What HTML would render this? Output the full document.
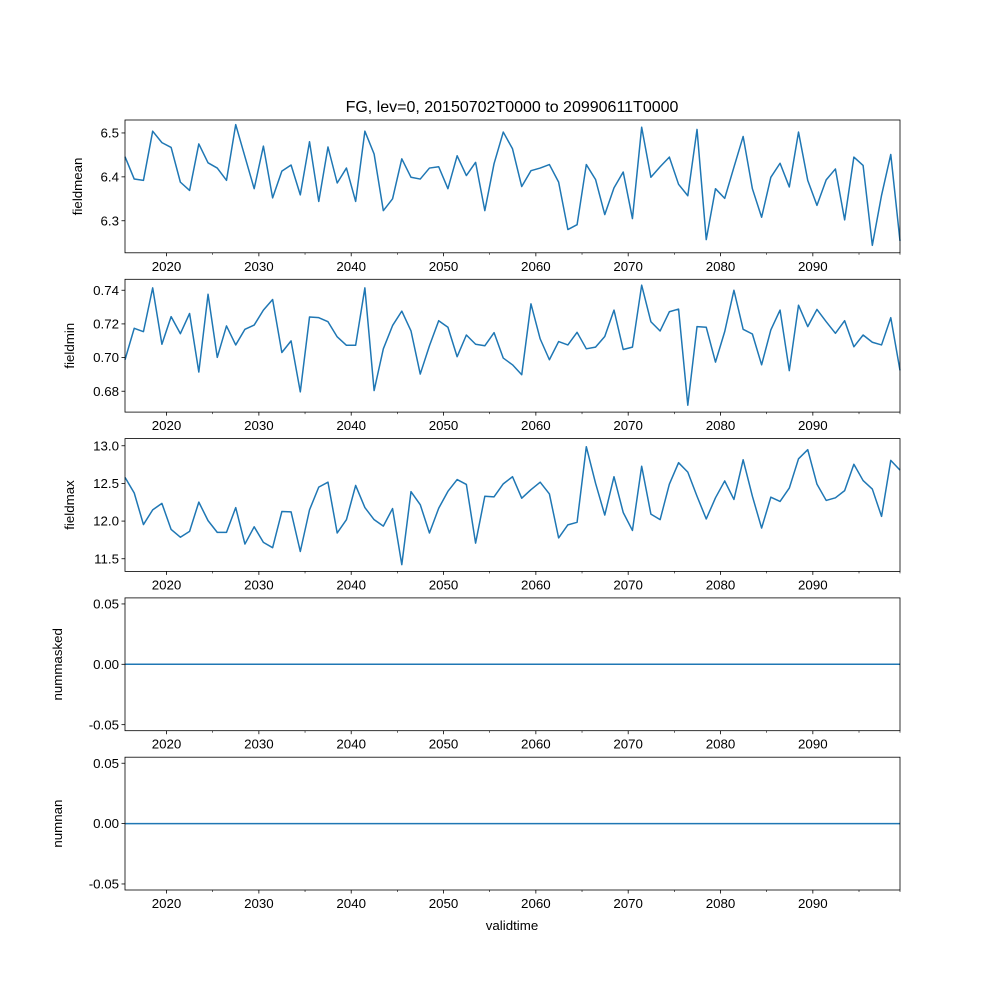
<!DOCTYPE html>
<html><head><meta charset="utf-8"><style>
body{margin:0;background:#fff}
svg{display:block;font-family:"Liberation Sans","DejaVu Sans",sans-serif}
</style></head><body>
<svg id="chart" width="1000" height="1000" viewBox="0 0 1000 1000" xmlns="http://www.w3.org/2000/svg">
<rect width="1000" height="1000" fill="#fff"/>
<text x="512" y="112" font-size="16" text-anchor="middle">FG, lev=0, 20150702T0000 to 20990611T0000</text>
<text x="512" y="930" font-size="13.3" text-anchor="middle">validtime</text>
</svg>
<script>
const fieldmean = [6.446,6.395,6.392,6.504,6.478,6.467,6.388,6.369,6.475,6.432,6.420,6.392,6.519,6.446,6.373,6.470,6.352,6.413,6.427,6.359,6.480,6.344,6.468,6.386,6.420,6.344,6.504,6.452,6.323,6.350,6.441,6.399,6.395,6.420,6.423,6.373,6.448,6.403,6.433,6.323,6.430,6.502,6.464,6.378,6.414,6.420,6.428,6.388,6.280,6.291,6.428,6.394,6.314,6.375,6.411,6.305,6.513,6.399,6.423,6.445,6.383,6.357,6.508,6.257,6.373,6.351,6.422,6.492,6.373,6.308,6.399,6.431,6.377,6.502,6.392,6.335,6.393,6.418,6.302,6.445,6.426,6.244,6.358,6.451,6.254];
const fieldmin = [0.6987,0.7174,0.7154,0.7414,0.7079,0.7243,0.7142,0.7262,0.6914,0.7376,0.7001,0.7188,0.7075,0.7168,0.7193,0.7282,0.7345,0.7030,0.7099,0.6796,0.7241,0.7237,0.7213,0.7123,0.7073,0.7073,0.7414,0.6804,0.7052,0.7190,0.7276,0.7158,0.6902,0.7070,0.7219,0.7180,0.7005,0.7134,0.7079,0.7070,0.7148,0.6997,0.6957,0.6898,0.7319,0.7111,0.6987,0.7095,0.7075,0.7150,0.7052,0.7062,0.7125,0.7282,0.7048,0.7062,0.7430,0.7213,0.7158,0.7272,0.7288,0.6717,0.7184,0.7180,0.6973,0.7154,0.7400,0.7168,0.7140,0.6957,0.7164,0.7282,0.6922,0.7311,0.7184,0.7286,0.7213,0.7144,0.7219,0.7064,0.7134,0.7091,0.7075,0.7237,0.6924];
const fieldmax = [12.581,12.373,11.954,12.149,12.235,11.889,11.786,11.863,12.252,12.006,11.850,11.850,12.179,11.695,11.924,11.717,11.647,12.127,12.123,11.596,12.149,12.451,12.516,11.842,12.019,12.473,12.179,12.019,11.933,12.166,11.422,12.391,12.218,11.842,12.170,12.395,12.551,12.486,11.708,12.330,12.322,12.494,12.589,12.304,12.417,12.516,12.360,11.777,11.950,11.984,12.987,12.503,12.080,12.589,12.114,11.876,12.728,12.093,12.019,12.490,12.775,12.650,12.330,12.028,12.309,12.533,12.287,12.814,12.330,11.907,12.317,12.261,12.438,12.827,12.948,12.490,12.274,12.309,12.404,12.754,12.538,12.425,12.062,12.806,12.676];
const nummasked = new Array(85).fill(0);
const numnan = new Array(85).fill(0);
const startYear = 2015.5, endYear = 2099.44;
const xTickLabels = [2020,2030,2040,2050,2060,2070,2080,2090];
const meanTicks = [6.3,6.4,6.5];
const minTicks = [0.68,0.70,0.72,0.74];
const maxTicks = [11.5,12.0,12.5,13.0];
const zeroTicks = [-0.05,0.00,0.05];

const NS="http://www.w3.org/2000/svg";
const svg=document.getElementById('chart');
const L=125,R=900,H=132.8,TOP=[120,279.3,438.6,597.9,757.2];
function mk(t,a,p){const e=document.createElementNS(NS,t);for(const k in a)e.setAttribute(k,a[k]);(p||svg).appendChild(e);return e;}
function xYear(y){return L+(y-startYear)/(endYear-startYear)*(R-L);}
const panels=[
 {name:'fieldmean',data:fieldmean,lo:6.227,hi:6.5295,ticks:meanTicks,dec:1,lx:82},
 {name:'fieldmin',data:fieldmin,lo:0.6676,hi:0.7465,ticks:minTicks,dec:2,lx:74},
 {name:'fieldmax',data:fieldmax,lo:11.332,hi:13.095,ticks:maxTicks,dec:1,lx:74},
 {name:'nummasked',data:nummasked,lo:-0.055,hi:0.055,ticks:zeroTicks,dec:2,lx:62},
 {name:'numnan',data:numnan,lo:-0.055,hi:0.055,ticks:zeroTicks,dec:2,lx:62}
];
panels.forEach((p,pi)=>{
  const top=TOP[pi],bot=top+H;
  const g=mk('g',{});
  
  
  const yS=v=>bot-(v-p.lo)/(p.hi-p.lo)*H;
  const n=p.data.length;
  const xI=i=>xYear(startYear+i*(endYear-startYear)/(n-1));
  const pts=p.data.map((v,i)=>xI(i).toFixed(2)+','+yS(v).toFixed(2)).join(' ');
  const line=mk('polyline',{points:pts,fill:'none',stroke:'#1f77b4','stroke-width':1.5,'stroke-linejoin':'round'},g);
  
  
  const fr=mk('rect',{x:L,y:top,width:R-L,height:H,fill:'none',stroke:'#000','stroke-width':0.8},g);
  
  
  p.ticks.forEach(t=>{
    const y=yS(t);
    mk('line',{x1:L-3.5,x2:L,y1:y,y2:y,stroke:'#000','stroke-width':0.8},g);
    const tx=mk('text',{x:L-6,y:y+4.6,'font-size':13.3,'text-anchor':'end'},g);
    tx.textContent=t.toFixed(p.dec);
    
    
  });
  for(let yr=2020;yr<=2095;yr+=5){
    const x=xYear(yr);
    const major=yr%10===0;
    mk('line',{x1:x,x2:x,y1:bot,y2:bot+(major?3.5:2),stroke:'#000','stroke-width':major?0.8:0.6},g);
  }
  mk('line',{x1:R,x2:R,y1:bot,y2:bot+2,stroke:'#000','stroke-width':0.6},g);
  xTickLabels.forEach(yr=>{
    const tx=mk('text',{x:xYear(yr),y:bot+18,'font-size':13.3,'text-anchor':'middle'},g);
    tx.textContent=yr;
    
    
  });
  const cy=top+H/2;
  const yl=mk('text',{x:p.lx,y:cy,'font-size':13.3,'text-anchor':'middle',transform:`rotate(-90 ${p.lx} ${cy})`},g);
  yl.textContent=p.name;
  
  
});
</script>
</body></html>
